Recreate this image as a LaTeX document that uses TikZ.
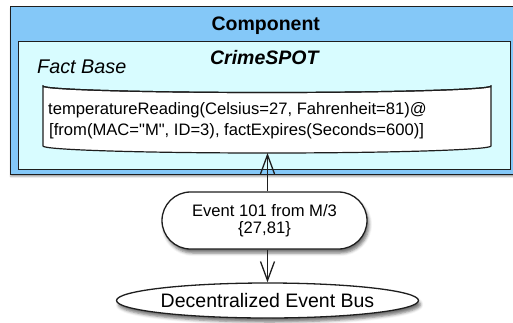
\documentclass[tikz,border=0pt]{standalone}
\usepackage{fontspec}
\setmainfont{Liberation Sans}
\usetikzlibrary{arrows.meta,shapes.geometric,shadows.blur}
\definecolor{compblue}{RGB}{132,200,248}
\definecolor{spotcyan}{RGB}{216,252,255}
\definecolor{edge}{RGB}{30,30,30}
\begin{document}
\begin{tikzpicture}[x=1pt,y=-1pt,
  frame/.style={draw=edge, line width=1.4pt},
  big/.style={font=\fontsize{19.5}{23}\selectfont},
  small/.style={font=\fontsize{16.6}{21}\selectfont},
  soft/.style={blur shadow={shadow xshift=2pt, shadow yshift=-4pt,
      shadow blur radius=3pt, shadow opacity=55}},
  link/.style={line width=1.3pt, draw=edge,
      -{Straight Barb[length=19pt,width=14pt,line width=1.3pt]}},
  ]
\useasboundingbox (0,0) rectangle (513,322);
\clip (0,0) rectangle (513,322);

% containers
\node[frame, fill=compblue, minimum width=520pt, minimum height=168pt,
      inner sep=0, anchor=north west,
      blur shadow={shadow xshift=0pt, shadow yshift=-2pt, shadow blur radius=1.5pt, shadow opacity=35}]
      (component) at (10,6) {};
\node[frame, fill=spotcyan, minimum width=492pt, minimum height=128pt,
      inner sep=0, anchor=north west] (crimespot) at (18,41) {};

\node[big, font=\fontsize{19.5}{23}\selectfont\bfseries, anchor=base, inner sep=0]
      (comptitle) at (265.8,30.7) {Component};
\node[big, font=\fontsize{19.5}{23}\selectfont\bfseries\itshape, anchor=base, inner sep=0]
      (spottitle) at (264.3,64.3) {CrimeSPOT};
\node[font=\fontsize{19.8}{23}\selectfont\itshape, anchor=base west, inner sep=0]
      (factlabel) at (37,73.3) {Fact Base};

% fact base cylinder
\path[draw=edge, line width=1.2pt, fill=white]
  (43,86) -- (43,146)
  arc[start angle=180, end angle=0, x radius=224, y radius=7]
  -- (491,86)
  arc[start angle=0, end angle=180, x radius=224, y radius=6.5] -- cycle;
\draw[edge, line width=1.2pt] (43,86) arc[start angle=180, end angle=0, x radius=224, y radius=6.5];
\coordinate (factbottom) at (267.5,153);

\node[small, anchor=base west, inner sep=0] (fact1) at (48,114)
  {temperatureReading(Celsius=27, Fahrenheit=81)@};
\node[small, anchor=base west, inner sep=0] (fact2) at (49,135)
  {[from(MAC=\textquotedbl M\textquotedbl, ID=3), factExpires(Seconds=600)]};

% event and bus
\node[frame, line width=1.3pt, fill=white, rounded corners=28.5pt, minimum width=205pt,
      minimum height=57pt, inner sep=0, align=center, soft,
      font=\fontsize{16.6}{17.5}\selectfont]
      (event) at (264.5,220.5) {Event 101 from M/3\\\{27,81\}};
\node[ellipse, frame, line width=1.3pt, fill=white, minimum width=301pt, minimum height=35pt,
      inner sep=0, big, soft] (bus) at (267.5,300.5) {Decentralized Event Bus};

\draw[link] (event.north -| factbottom) -- (factbottom);
\draw[link] (event.south -| bus.north) -- (bus.north);
\end{tikzpicture}
\end{document}
